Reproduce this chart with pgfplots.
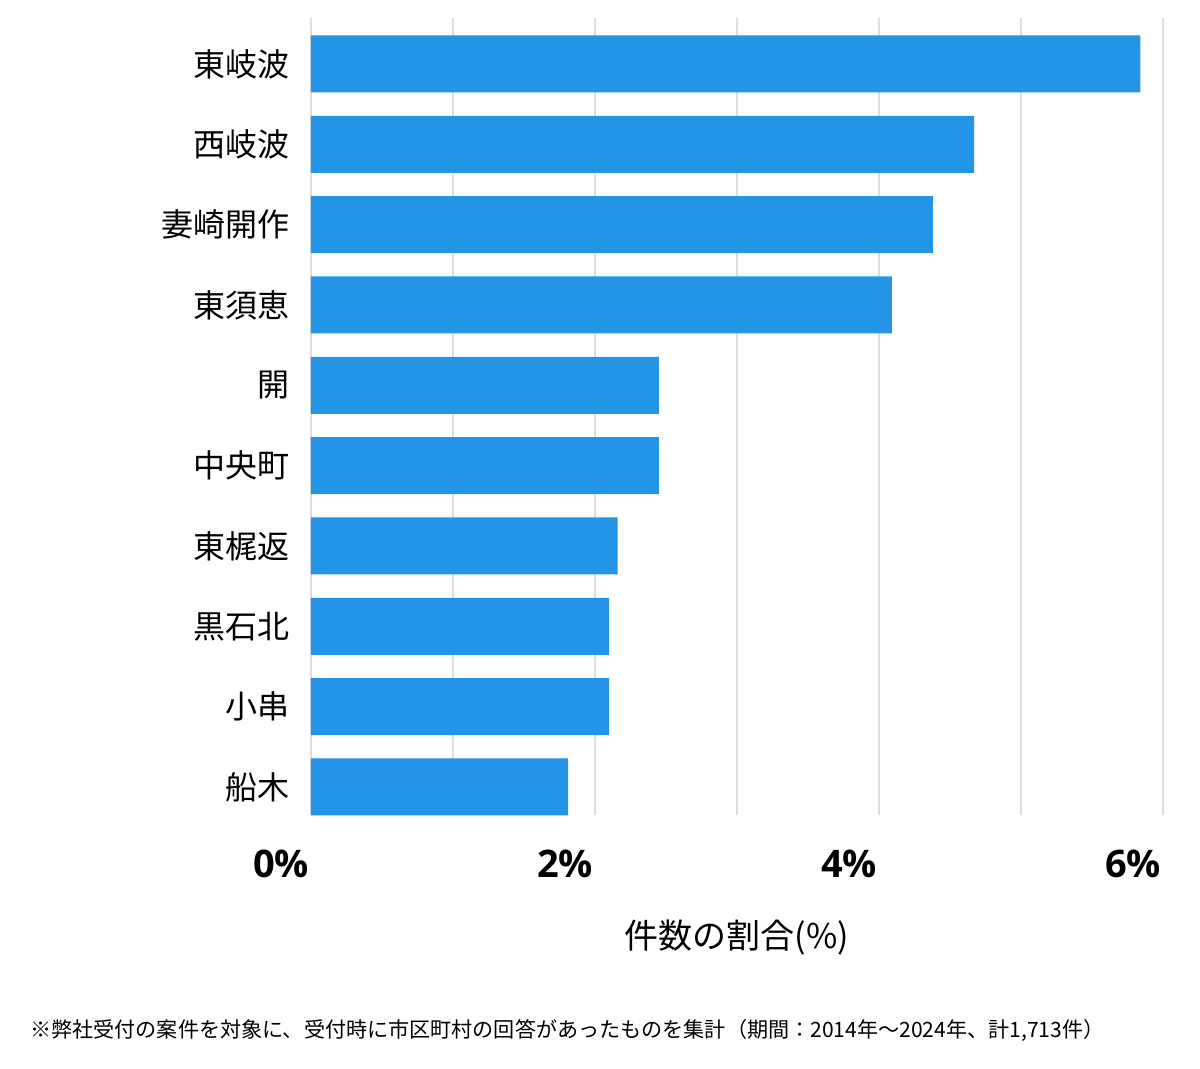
\documentclass[border=0pt]{standalone}
\usepackage{pgfplots}
\pgfplotsset{compat=1.18}
\usepackage{fontspec}
\setmainfont{Noto Sans CJK JP}
\newfontfamily\boldsans{Open Sans}
\definecolor{barblue}{HTML}{2494E6}
\definecolor{gridgray}{HTML}{DDDDDD}
\begin{document}
\begin{tikzpicture}
\begin{axis}[
  at={(0,0)}, anchor=south west,
  scale only axis,
  width=426pt, height=398.5pt,
  xbar, bar width=28.5pt,
  xmin=0, xmax=6,
  ymin=-0.5726, ymax=9.3486,
  y dir=reverse,
  ytick={0,...,9},
  yticklabels={東岐波,西岐波,妻崎開作,東須恵,開,中央町,東梶返,黒石北,小串,船木},
  xtick={0,1,2,3,4,5,6},
  xticklabels={0\%,,2\%,,4\%,,6\%},
  /pgf/number format/assume math mode=true,
  xmajorgrids,
  major grid style={gridgray, line width=0.8pt},
  axis line style={draw=none},
  major tick length=0pt,
  tick style={draw=none},
  yticklabel style={font=\fontsize{16}{16}\selectfont, text=black, anchor=east, xshift=-7pt},
  xticklabel style={font=\boldsans\bfseries\fontsize{19}{19}\selectfont, text=black, anchor=north east, yshift=-14pt, xshift=2.5pt},
  xlabel={件数の割合(\%)},
  xlabel style={font=\fontsize{17}{17}\selectfont, at={(axis description cs:0.5,0)}, anchor=center, yshift=-61.5pt},
]
\addplot[fill=barblue, draw=none] coordinates {
  (5.84,0) (4.67,1) (4.38,2) (4.09,3) (2.45,4) (2.45,5) (2.16,6) (2.10,7) (2.10,8) (1.81,9)
};
\end{axis}
\node[anchor=west, font=\fontsize{10.55}{10.55}\selectfont, inner sep=0pt] at (-140.5pt,-107.5pt)
  {※弊社受付の案件を対象に、受付時に市区町村の回答があったものを集計（期間：2014年～2024年、計1,713件）};
\pgfresetboundingbox
\path (-155.5pt,-127pt) rectangle (444.5pt,407.5pt);
\end{tikzpicture}
\end{document}
